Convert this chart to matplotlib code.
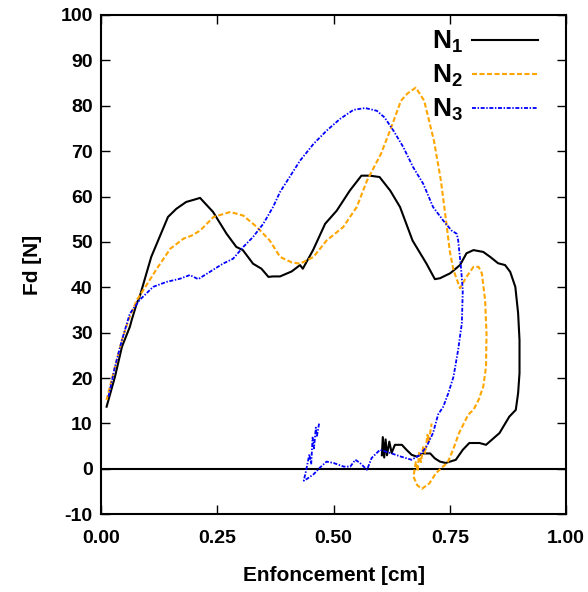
import matplotlib
matplotlib.use('Agg')
import matplotlib.pyplot as plt

plt.rcParams['font.family'] = ['Liberation Sans', 'DejaVu Sans']
plt.rcParams['mathtext.default'] = 'regular'
plt.rcParams['axes.unicode_minus'] = False

# N1 : loading then unloading (black)
n1_x = [0.012, 0.030, 0.045, 0.062, 0.066, 0.077, 0.083, 0.108, 0.126, 0.144, 0.162, 0.183,
        0.200, 0.213, 0.241, 0.270, 0.291, 0.305, 0.327, 0.345, 0.360, 0.370, 0.385, 0.410,
        0.428, 0.434, 0.456, 0.482, 0.507, 0.535, 0.560, 0.578, 0.599, 0.622, 0.643, 0.670,
        0.700, 0.718, 0.729, 0.751, 0.772, 0.786, 0.801, 0.822, 0.837, 0.854, 0.869, 0.880,
        0.891, 0.897, 0.900, 0.900, 0.897, 0.892,
        0.878, 0.857, 0.828, 0.814, 0.792, 0.778, 0.763, 0.741, 0.729, 0.718, 0.708, 0.693,
        0.679, 0.668, 0.657, 0.647, 0.632, 0.625, 0.620, 0.615, 0.612, 0.609, 0.606, 0.604]
n1_y = [13.7, 20.3, 26.9, 31.3, 32.8, 36.5, 37.9, 46.7, 51.1, 55.5, 57.3, 58.8,
        59.3, 59.7, 56.6, 51.8, 48.9, 48.2, 45.2, 44.1, 42.3, 42.4, 42.4, 43.5,
        44.9, 44.1, 48.2, 54.0, 56.9, 61.3, 64.6, 64.6, 64.3, 61.3, 57.7, 50.3,
        45.2, 41.8, 42.0, 43.1, 44.9, 47.5, 48.2, 47.8, 46.7, 45.3, 44.9, 43.4,
        40.1, 34.3, 28.4, 21.1, 16.7, 13.0,
        11.5, 7.9, 5.3, 5.7, 5.7, 4.2, 2.0, 1.3, 1.6, 2.3, 3.4, 3.4,
        2.7, 3.1, 4.2, 5.3, 5.3, 3.5, 6.0, 3.0, 6.5, 2.5, 7.0, 3.0]

# N2 (orange)
n2_x = [0.012, 0.030, 0.045, 0.059, 0.077, 0.091, 0.120, 0.149, 0.177, 0.195, 0.213, 0.242,
        0.278, 0.306, 0.335, 0.363, 0.385, 0.410, 0.428, 0.457, 0.485, 0.521, 0.550, 0.572,
        0.602, 0.624, 0.645, 0.659, 0.677, 0.695, 0.716, 0.731, 0.742, 0.750, 0.758, 0.772,
        0.786, 0.801, 0.812, 0.819, 0.826, 0.829, 0.828, 0.822, 0.812, 0.801, 0.790, 0.770,
        0.757, 0.745, 0.734, 0.720, 0.706, 0.690, 0.680, 0.672, 0.677, 0.681, 0.684, 0.688,
        0.693, 0.697, 0.702, 0.705, 0.711]
n2_y = [15.2, 22.5, 28.4, 32.8, 37.2, 39.4, 44.1, 48.5, 50.7, 51.4, 52.5, 55.5,
        56.6, 55.8, 53.3, 50.3, 46.7, 45.5, 45.2, 46.7, 50.3, 53.3, 57.7, 63.5,
        69.4, 75.2, 81.1, 82.7, 84.0, 81.1, 72.3, 63.5, 54.7, 48.0, 43.8, 39.8,
        42.3, 44.5, 44.5, 43.1, 37.2, 29.9, 22.5, 18.1, 15.2, 13.0, 12.0, 7.9,
        4.2, 1.3, 0.4, -1.0, -3.2, -4.4, -3.6, -1.7, 1.5, -0.5, 3.5, 1.5,
        5.0, 3.5, 7.5, 6.0, 10.0]

# N3 (blue)
n3_x = [0.016, 0.030, 0.045, 0.062, 0.083, 0.112, 0.141, 0.170, 0.191, 0.209, 0.234, 0.262,
        0.284, 0.306, 0.327, 0.349, 0.370, 0.385, 0.428, 0.457, 0.485, 0.514, 0.543, 0.568,
        0.593, 0.610, 0.629, 0.650, 0.671, 0.693, 0.714, 0.736, 0.754, 0.765, 0.768, 0.774,
        0.778, 0.776, 0.768, 0.758, 0.747, 0.736, 0.725, 0.714, 0.700, 0.686, 0.668, 0.645,
        0.622, 0.600, 0.582, 0.572, 0.557, 0.547, 0.536, 0.522, 0.500, 0.485, 0.471, 0.457,
        0.443, 0.436, 0.441, 0.448, 0.452, 0.455, 0.458, 0.462, 0.464, 0.469]
n3_y = [15.9, 22.5, 28.4, 34.2, 37.2, 40.1, 41.2, 41.9, 42.7, 41.8, 43.4, 45.2,
        46.3, 48.9, 51.1, 54.0, 57.7, 61.0, 67.9, 71.6, 74.5, 77.1, 79.1, 79.5,
        78.9, 77.4, 74.5, 70.9, 66.5, 62.8, 57.7, 54.7, 52.5, 51.8, 50.4, 44.5,
        39.4, 32.1, 26.2, 20.3, 16.7, 13.7, 12.0, 7.9, 4.9, 3.1, 2.0, 2.7,
        3.5, 4.2, 2.4, -0.2, 1.3, 2.0, 0.5, 0.5, 1.3, 1.6, 0.3, -1.2,
        -2.2, -2.6, -0.4, 3.2, 1.0, 6.9, 4.5, 9.1, 7.0, 10.0]

x_ticks = [0.0, 0.25, 0.5, 0.75, 1.0]
y_ticks = list(range(-10, 101, 10))

fig = plt.figure(figsize=(5.88, 5.92), dpi=100)
ax = fig.add_axes([0.1718, 0.1313, 0.7908, 0.8434])

ax.axhline(0, color='black', lw=1.5, zorder=1)
ax.plot(n1_x, n1_y, color='black', lw=1.5, label='N$_1$')
ax.plot(n2_x, n2_y, color='#FFA500', lw=1.5, dashes=(2.4, 1.2), label='N$_2$')
ax.plot(n3_x, n3_y, color='#0000FF', lw=1.3, dashes=(2.2, 0.9, 0.8, 0.9), label='N$_3$')

ax.set_xlim(0, 1)
ax.set_ylim(-10, 100)
ax.set_xticks(x_ticks)
ax.set_xticklabels(['%.2f' % t for t in x_ticks])
ax.set_yticks(y_ticks)
ax.tick_params(direction='in', length=6.5, width=1, top=True, right=True,
               labelsize=14, pad=6)
ax.tick_params(axis='x', pad=11)
for lab in ax.get_xticklabels() + ax.get_yticklabels():
    lab.set_fontweight('bold')
for spine in ax.spines.values():
    spine.set_linewidth(1.5)

ax.set_xlabel('Enfoncement [cm]', fontsize=15, fontweight='bold', labelpad=14)
ax.set_ylabel('Fd [N]', fontsize=15, fontweight='bold', labelpad=13)

ax.legend(loc='upper right', bbox_to_anchor=(0.94, 0.972), frameon=False,
          markerfirst=False, handlelength=2.5, handletextpad=0.35,
          labelspacing=0.3, borderpad=0, borderaxespad=0,
          prop={'weight': 'bold', 'size': 19})

fig.savefig('out.png', dpi=100)
